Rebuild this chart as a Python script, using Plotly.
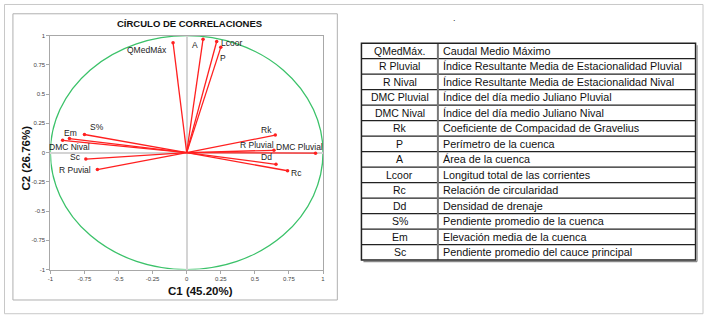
import plotly.graph_objects as go

# ---------------- data ----------------
variables = ["QMedMáx", "A", "Lcoor", "P", "Rk", "R Pluvial", "DMC Pluvial",
             "Dd", "Rc", "S%", "Em", "DMC Nival", "Sc", "R Puvial"]
c1 = [-0.10, 0.12, 0.22, 0.25, 0.65, 0.64, 0.945, 0.655, 0.74, -0.75, -0.86, -0.91, -0.74, -0.655]
c2 = [0.94, 0.97, 0.95, 0.90, 0.15, 0.02, -0.005, -0.10, -0.155, 0.155, 0.12, 0.105, -0.055, -0.145]

table_codes = ["QMedMáx.", "R Pluvial", "R Nival", "DMC Pluvial", "DMC Nival", "Rk", "P", "A",
               "Lcoor", "Rc", "Dd", "S%", "Em", "Sc"]
table_desc = ["Caudal Medio Máximo",
              "Índice Resultante Media de Estacionalidad Pluvial",
              "Índice Resultante Media de Estacionalidad Nival",
              "Índice del día medio Juliano Pluvial",
              "Índice del día medio Juliano Nival",
              "Coeficiente de Compacidad de Gravelius",
              "Perímetro de la cuenca",
              "Área de la cuenca",
              "Longitud total de las corrientes",
              "Relación de circularidad",
              "Densidad de drenaje",
              "Pendiente promedio de la cuenca",
              "Elevación media de la cuenca",
              "Pendiente promedio del cauce principal"]

tick_vals = [-1, -0.75, -0.5, -0.25, 0, 0.25, 0.5, 0.75, 1]
tick_text = ["-1", "-0.75", "-0.5", "-0.25", "0", "0.25", "0.5", "0.75", "1"]

title_text = "CÍRCULO DE CORRELACIONES"
x_title = "C1 (45.20%)"
y_title = "C2 (26.76%)"

# ---------------- style (label offsets in px: xshift, yshift, anchor) ----------------
label_style = {
    "QMedMáx": (-4, -7, "right"),
    "A": (-3, -6, "right"),
    "Lcoor": (2, -1, "left"),
    "P": (-3, -11, "left"),
    "Rk": (-9, 5, "center"),
    "R Pluvial": (-17, 5, "center"),
    "DMC Pluvial": (-16, 6, "center"),
    "Dd": (-9, 7, "center"),
    "Rc": (1, -2, "left"),
    "S%": (4, 7, "left"),
    "Em": (1, 6, "center"),
    "DMC Nival": (-16, -7, "left"),
    "Sc": (-3, 2, "right"),
    "R Puvial": (-4, 0, "right"),
}

W, H = 706, 318
FONT = "Liberation Sans, Arial, sans-serif"
RED = "#ff2020"


def px(x):
    return x / W


def py(y):
    return 1 - y / H


fig = go.Figure()

# vectors
xs, ys = [], []
for x, y in zip(c1, c2):
    xs += [0, x, None]
    ys += [0, y, None]
fig.add_trace(go.Scatter(x=xs, y=ys, mode="lines", line=dict(color=RED, width=1.3),
                         hoverinfo="skip", showlegend=False))
fig.add_trace(go.Scatter(x=c1, y=c2, mode="markers", marker=dict(color=RED, size=3.5),
                         text=variables, showlegend=False))

for name, x, y in zip(variables, c1, c2):
    dx, dy, anchor = label_style[name]
    fig.add_annotation(x=x, y=y, xref="x", yref="y", text=name, showarrow=False,
                       xshift=dx, yshift=dy, xanchor=anchor, yanchor="middle",
                       font=dict(family=FONT, size=8.5, color="#222"))

# unit circle
fig.add_shape(type="circle", xref="x", yref="y", x0=-1, y0=-1, x1=1, y1=1,
              line=dict(color="#3cc26a", width=1.3), layer="below")

# ---------------- table (drawn with shapes + annotations) ----------------
T_L, T_R, T_T, T_B, T_DIV = 361, 697.5, 41, 262, 438
n_rows = len(table_codes)
row_h = (T_B - T_T) / n_rows
for i, (code, desc) in enumerate(zip(table_codes, table_desc)):
    yc = T_T + (i + 0.5) * row_h
    fig.add_annotation(x=px((T_L + T_DIV) / 2), y=py(yc), xref="paper", yref="paper",
                       text=code, showarrow=False, xanchor="center", yanchor="middle",
                       font=dict(family=FONT, size=10.5, color="#111"))
    fig.add_annotation(x=px(T_DIV + 3), y=py(yc), xref="paper", yref="paper",
                       text=desc, showarrow=False, xanchor="left", yanchor="middle",
                       font=dict(family=FONT, size=10.8, color="#111"))
    if i > 0:
        yl = T_T + i * row_h
        fig.add_shape(type="line", xref="paper", yref="paper", x0=px(T_L), x1=px(T_R),
                      y0=py(yl), y1=py(yl), line=dict(color="#222", width=1.2))
fig.add_shape(type="line", xref="paper", yref="paper", x0=px(T_DIV), x1=px(T_DIV),
              y0=py(T_T), y1=py(T_B), line=dict(color="#777", width=2))
fig.add_shape(type="rect", xref="paper", yref="paper", x0=px(T_L), x1=px(T_R),
              y0=py(T_B), y1=py(T_T), line=dict(color="#222", width=1.5))
# shadow on right / bottom
fig.add_shape(type="line", xref="paper", yref="paper", x0=px(T_R + 1.5), x1=px(T_R + 1.5),
              y0=py(T_B + 1.5), y1=py(T_T + 2), line=dict(color="#888", width=1.2))
fig.add_shape(type="line", xref="paper", yref="paper", x0=px(T_L + 2), x1=px(T_R + 1.5),
              y0=py(T_B + 1.5), y1=py(T_B + 1.5), line=dict(color="#888", width=1.2))

axis_common = dict(range=[-1, 1], tickvals=tick_vals, ticktext=tick_text,
                   showgrid=False, zeroline=True, zerolinecolor="#d4d4d4", zerolinewidth=2,
                   showline=True, linecolor="#a8a8a8", linewidth=1, mirror=True,
                   ticks="outside", ticklen=3, tickcolor="#a8a8a8",
                   tickfont=dict(family=FONT, size=6, color="#444"))

fig.update_layout(
    width=W, height=H,
    margin=dict(l=0, r=0, t=0, b=0),
    paper_bgcolor="white", plot_bgcolor="white",
    xaxis=dict(domain=[px(47.7), px(322.3)], **axis_common),
    yaxis=dict(domain=[py(271.7), py(33.3)], **axis_common),
    font=dict(family=FONT),
)

# titles
fig.add_annotation(x=px(188), y=py(21), xref="paper", yref="paper", text="<b>" + title_text + "</b>",
                   showarrow=False, xanchor="center", yanchor="middle",
                   font=dict(family=FONT, size=9.5, color="#111"))
fig.add_annotation(x=px(198.5), y=py(294), xref="paper", yref="paper", text="<b>" + x_title + "</b>",
                   showarrow=False, xanchor="center", yanchor="middle",
                   font=dict(family=FONT, size=11.5, color="#111"))
fig.add_annotation(x=px(22.7), y=py(158), xref="paper", yref="paper", text="<b>" + y_title + "</b>",
                   showarrow=False, textangle=-90, xanchor="center", yanchor="middle",
                   font=dict(family=FONT, size=11.5, color="#111"))
fig.add_annotation(x=px(455), y=py(15), xref="paper", yref="paper", text=".",
                   showarrow=False, xanchor="center", yanchor="middle",
                   font=dict(family=FONT, size=9, color="#333"))

# frames
fig.add_shape(type="rect", xref="paper", yref="paper", x0=px(10), x1=px(336.7),
              y0=py(302.7), y1=py(11), line=dict(color="#b0b0b0", width=1))
fig.add_shape(type="rect", xref="paper", yref="paper", x0=px(1.5), x1=px(705),
              y0=py(316.7), y1=py(1.5), line=dict(color="#c8c8c8", width=1))

fig.write_html("out.html", config={"displayModeBar": False},
               post_script="document.body.style.margin='0';document.body.style.overflow='hidden';")
